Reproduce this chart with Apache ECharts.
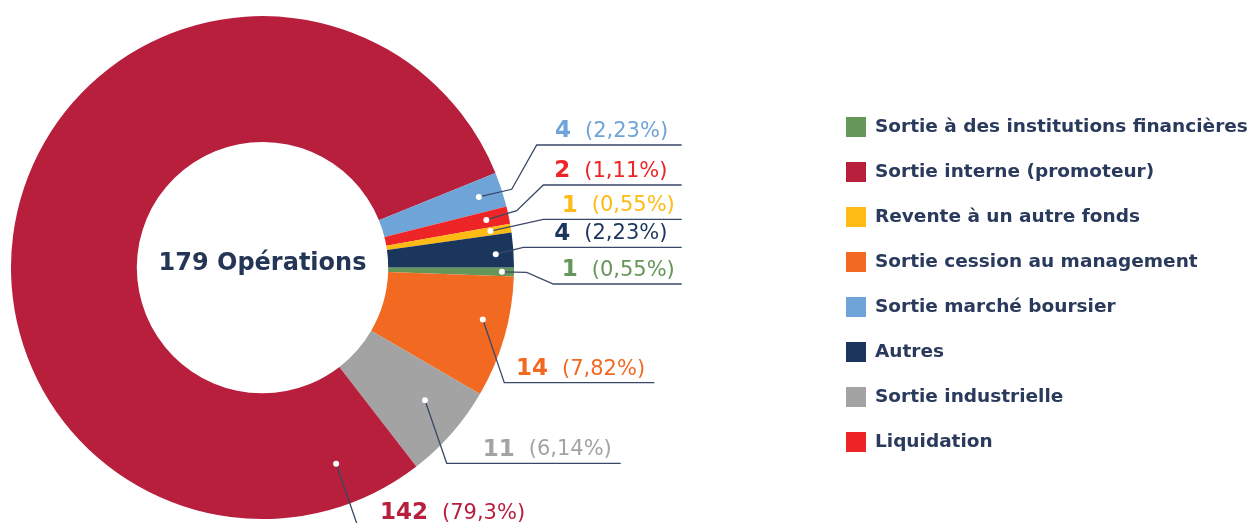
<!DOCTYPE html>
<html>
<head>
<meta charset="utf-8">
<script src="https://cdn.jsdelivr.net/npm/echarts@6/dist/echarts.min.js"></script>
<style>
  html, body { margin: 0; padding: 0; background: #fff; }
  #main { width: 1253px; height: 523px; }
</style>
</head>
<body>
<div id="main"></div>
<script>
// slices, clockwise from 3 o'clock
var categories = [
  'Sortie à des institutions financières',
  'Sortie cession au management',
  'Sortie industrielle',
  'Sortie interne (promoteur)',
  'Sortie marché boursier',
  'Liquidation',
  'Revente à un autre fonds',
  'Autres'
];
var values = [1, 14, 11, 142, 4, 2, 1, 4];
var pctLabels = ['0,55%', '7,82%', '6,14%', '79,3%', '2,23%', '1,11%', '0,55%', '2,23%'];
var colors = ['#65965A', '#F26A22', '#A3A3A3', '#B71F3C', '#6FA4D8', '#EE2527', '#FDBB13', '#1B365D'];
var legendOrder = [
  'Sortie à des institutions financières',
  'Sortie interne (promoteur)',
  'Revente à un autre fonds',
  'Sortie cession au management',
  'Sortie marché boursier',
  'Autres',
  'Sortie industrielle',
  'Liquidation'
];
var totalLabel = '179 Opérations';

var CX = 262.5, CY = 267.6, R_IN = 125.7, R_OUT = 251.5;
var FONT = 'DejaVu Sans';
var LINE_COLOR = '#3A4868';

// callout layout for each slice (same order as categories)
// at: where the dot sits inside the slice (0..1), r: dot radius / outer radius
var callouts = [
  { at: 0.5,  r: 0.952, bends: [[526.7, 272.3], [553.3, 284]], end: 681.7, textX: 561.7 },
  { at: 0.40, r: 0.90,  bends: [[504.3, 382.7]], end: 654.3, textX: 516 },
  { at: 0.41, r: 0.834, bends: [[446.7, 463.3]], end: 620.7, textX: 482.7 },
  { at: 0.06, r: 0.833, bends: [[358, 527]], end: 560, textX: 380 },
  { at: 0.5,  r: 0.905, bends: [[511.7, 189.3], [536.7, 145]], end: 681.7, textX: 555 },
  { at: 0.51, r: 0.91,  bends: [[516.7, 210.7], [543.3, 185]], end: 681.7, textX: 554.3 },
  { at: 0.47, r: 0.918, bends: [[543.3, 219.3]], end: 681.7, textX: 561.7 },
  { at: 0.59, r: 0.929, bends: [[523.3, 247.3]], end: 681.7, textX: 554.3 }
];

var total = values.reduce(function (a, b) { return a + b; }, 0);
var starts = [];
values.reduce(function (acc, v, i) { starts[i] = acc; return acc + v; }, 0);

function anchorValue(i) {
  return starts[i] + callouts[i].at * values[i];
}

function anchorPixel(i) {
  var a = anchorValue(i) / total * Math.PI * 2;
  var r = callouts[i].r * R_OUT;
  return [CX + r * Math.cos(a), CY + r * Math.sin(a)];
}

var chart = echarts.init(document.getElementById('main'));

var pieBase = {
  type: 'pie',
  center: [CX, CY],
  radius: [R_IN, R_OUT],
  startAngle: 0,
  clockwise: true,
  silent: true,
  avoidLabelOverlap: false
};

var option = {
  animation: false,
  legend: {
    orient: 'vertical',
    left: 846,
    top: 117,
    padding: 0,
    itemWidth: 20,
    itemHeight: 20,
    itemGap: 25,
    icon: 'rect',
    selectedMode: false,
    data: legendOrder,
    textStyle: {
      fontFamily: FONT,
      fontSize: 18.5,
      fontWeight: 'bold',
      color: '#2A3A5C',
      padding: [0, 0, 0, 4]
    }
  },
  polar: { center: [CX, CY], radius: R_OUT },
  angleAxis: { type: 'value', min: 0, max: total, startAngle: 0, clockwise: true, show: false },
  radiusAxis: { type: 'value', min: 0, max: 1, show: false },
  graphic: [{
    type: 'text',
    x: CX,
    y: 263.5,
    silent: true,
    style: {
      text: totalLabel,
      align: 'center',
      verticalAlign: 'middle',
      fontFamily: FONT,
      fontSize: 24,
      fontWeight: 'bold',
      fill: '#243555'
    }
  }],
  series: [
    // coloured ring
    echarts.util.extend({
      z: 2,
      itemStyle: { borderWidth: 0 },
      label: { show: false },
      labelLine: { show: false },
      data: categories.map(function (name, i) {
        return { name: name, value: values[i], itemStyle: { color: colors[i] } };
      })
    }, pieBase),
    // same ring, transparent, carrying the callouts on top
    echarts.util.extend({
      z: 3,
      itemStyle: { color: 'rgba(0,0,0,0)', borderWidth: 0 },
      data: categories.map(function (name, i) {
        return { name: name, value: values[i], label: { color: colors[i] } };
      }),
      label: {
        show: true,
        formatter: function (p) {
          return '{n|' + p.value + '}{p|(' + pctLabels[p.dataIndex] + ')}';
        },
        rich: {
          n: { fontFamily: FONT, fontSize: 23, fontWeight: 'bold' },
          p: { fontFamily: FONT, fontSize: 21, fontWeight: 'normal', padding: [0, 0, 0, 14] }
        }
      },
      labelLine: { show: true, lineStyle: { color: LINE_COLOR, width: 1.3 } },
      labelLayout: function (params) {
        var i = params.dataIndex;
        var c = callouts[i];
        var pts = [anchorPixel(i)].concat(c.bends);
        var last = c.bends[c.bends.length - 1];
        pts.push([c.end, last[1]]);
        return {
          x: c.textX,
          y: last[1] - 13.5,
          align: 'left',
          verticalAlign: 'middle',
          labelLinePoints: pts
        };
      }
    }, pieBase),
    {
      type: 'scatter',
      coordinateSystem: 'polar',
      symbol: 'circle',
      symbolSize: 6,
      silent: true,
      z: 10,
      itemStyle: { color: '#fff', opacity: 1 },
      data: categories.map(function (n, i) { return [callouts[i].r, anchorValue(i)]; })
    }
  ]
};

chart.setOption(option);
</script>
</body>
</html>
